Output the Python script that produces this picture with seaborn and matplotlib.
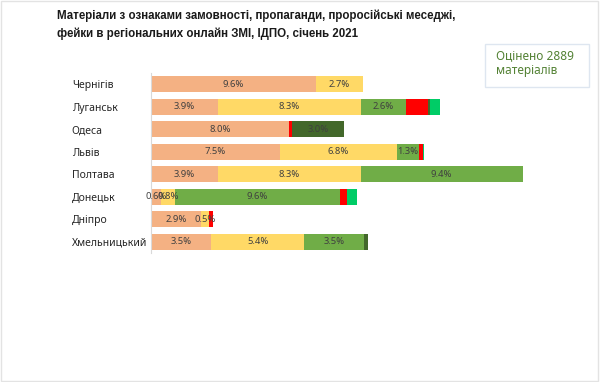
import numpy as np
import matplotlib
matplotlib.use("Agg")
import matplotlib.pyplot as plt
from matplotlib.patches import Rectangle
import seaborn as sns

# Дані: частка матеріалів (%) за регіонами
regions = ["Чернігів", "Луганськ", "Одеса", "Львів", "Полтава",
           "Донецьк", "Дніпро", "Хмельницький"]
zamovnist = [9.6, 3.9, 8.0, 7.5, 3.9, 0.6, 2.9, 3.5]
propaganda = [2.7, 8.3, 0.0, 6.8, 8.3, 0.8, 0.5, 5.4]
proros = [0.0, 2.6, 0.0, 1.3, 9.4, 9.6, 0.0, 3.5]
feiky = [0.0, 1.3, 0.2, 0.2, 0.0, 0.4, 0.2, 0.0]
inshe = [0.0, 0.1, 3.0, 0.0, 0.0, 0.0, 0.0, 0.2]
manipul = [0.0, 0.6, 0.0, 0.1, 0.0, 0.6, 0.0, 0.0]

series = [zamovnist, propaganda, proros, feiky, inshe, manipul]
colors = ["#F4B183", "#FFD966", "#70AD47", "#FF0000", "#43682B", "#00CC66"]
show_labels = [True, True, True, False, True, False]

sns.set_style("white")
plt.rcParams["font.family"] = ["Noto Sans", "DejaVu Sans"]

fig = plt.figure(figsize=(6, 3.82), dpi=100)
ax = fig.add_axes([151 / 600, (382 - 253) / 382, 378.4 / 600, 180 / 382])

# Складені смуги: малюємо кумулятивні суми від найбільшої до найменшої
cum = np.cumsum(np.array(series), axis=0)
for k in range(len(series) - 1, -1, -1):
    sns.barplot(x=cum[k], y=regions, order=regions, orient="h", color=colors[k],
                saturation=1, width=0.7, linewidth=0, ax=ax)

# Підписи значень по центру сегментів
for k, vals in enumerate(series):
    if not show_labels[k]:
        continue
    start = cum[k] - np.array(vals)
    for i, v in enumerate(vals):
        if v >= 0.5:
            ax.text(start[i] + v / 2, i, f"{v:.1f}%", ha="center", va="center",
                    fontsize=6.8, color="#404040")

ax.set_xlim(0, 22)
ax.set_xlabel("")
ax.set_ylabel("")
ax.set_xticks([])
for s in ["top", "right", "bottom"]:
    ax.spines[s].set_visible(False)
ax.spines["left"].set_color("#D9D9D9")
ax.spines["left"].set_linewidth(0.8)
ax.tick_params(axis="y", length=0, pad=57, labelsize=7.5, labelcolor="#262626")
for lbl in ax.get_yticklabels():
    lbl.set_horizontalalignment("left")

# Заголовок
fig.text(57 / 600, 1 - 9 / 382,
         "Матеріали з ознаками замовності, пропаганди, проросійські меседжі,\n"
         "фейки в регіональних онлайн ЗМІ, ІДПО, січень 2021",
         ha="left", va="top", fontsize=8.3, fontweight="bold",
         family="Liberation Sans", color="#1a1a1a", linespacing=1.65)

# Вставка з кількістю матеріалів
fig.patches.append(Rectangle((485 / 600, (382 - 87) / 382), 104 / 600, 43 / 382,
                             transform=fig.transFigure, fill=False,
                             edgecolor="#DEE6F0", linewidth=1))
fig.text(496 / 600, 1 - 49 / 382, "Оцінено 2889\nматеріалів", ha="left", va="top",
         fontsize=8.5, color="#548235", linespacing=1.2)

# Рамка навколо всього зображення
fig.patches.append(Rectangle((0.002, 0.003), 0.995, 0.994, transform=fig.transFigure,
                             fill=False, edgecolor="#E3E3E3", linewidth=1))

fig.savefig("out.png", dpi=100)
